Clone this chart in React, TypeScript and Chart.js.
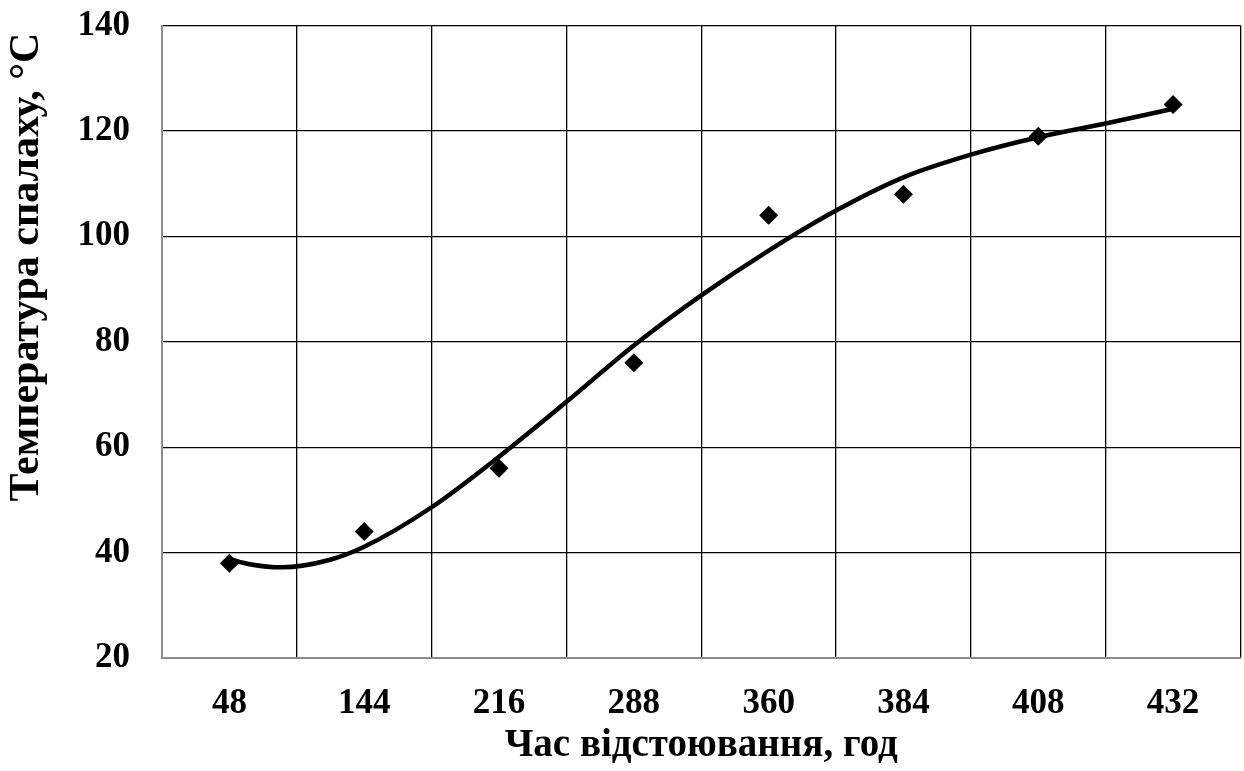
import React, { useEffect, useRef } from "react";
import { Chart, registerables } from "chart.js";

Chart.register(...registerables);

const categories = ["48", "144", "216", "288", "360", "384", "408", "432"];
const flashPoint = [38, 44, 56, 76, 104, 108, 119, 125];
const trendX = [0, 0.15, 0.39, 0.74, 1, 1.5, 2, 2.5, 3, 3.5, 4, 4.5, 5, 5.5, 6, 6.5, 7];
const trendY = [38.8, 37.8, 37.2, 38.6, 41.1, 48.6, 58.2, 68.6, 79.3, 88.8, 97.3, 104.9, 111.2, 115.5, 118.8, 121.4, 124.2];
const yTicks = [20, 40, 60, 80, 100, 120, 140];

const xTitle = "Час відстоювання, год";
const yTitle = "Температура спалаху, °C";

const FONT = '"Liberation Serif", "Times New Roman", serif';

const yTitlePlugin = {
  id: "yTitlePlugin",
  afterDraw(chart: any) {
    const ctx = chart.ctx;
    ctx.save();
    ctx.translate(27, 267);
    ctx.rotate(-Math.PI / 2);
    ctx.font = `bold 42px ${FONT}`;
    ctx.fillStyle = "#000";
    ctx.textAlign = "center";
    ctx.textBaseline = "middle";
    ctx.fillText(yTitle, 0, 0);
    ctx.restore();
  },
};

export default function App() {
  const ref = useRef<HTMLCanvasElement | null>(null);

  useEffect(() => {
    document.body.style.margin = "0";
    const canvas = ref.current!;
    const chart = new Chart(canvas, {
      type: "line",
      data: {
        labels: categories,
        datasets: [
          {
            label: "trend",
            data: trendX.map((x, i) => ({ x, y: trendY[i] })),
            xAxisID: "xl",
            borderColor: "#000",
            borderWidth: 4.5,
            pointRadius: 0,
            cubicInterpolationMode: "monotone",
            fill: false,
          } as any,
          {
            label: "data",
            data: flashPoint,
            xAxisID: "x",
            showLine: false,
            pointStyle: "rectRot",
            pointRadius: 9.5,
            pointBackgroundColor: "#000",
            pointBorderColor: "#000",
            pointBorderWidth: 0,
          },
        ],
      },
      options: {
        responsive: false,
        animation: false,
        layout: { padding: { left: 0, top: 25.5, right: 3, bottom: 0 } },
        plugins: {
          legend: { display: false },
          tooltip: { enabled: false },
        },
        scales: {
          x: {
            type: "category",
            offset: true,
            grid: {
              offset: true,
              drawTicks: false,
              color: (c: any) => (c.index === 0 ? "rgba(0,0,0,0)" : "#000"),
              lineWidth: 1.3,
            },
            border: { display: true, color: "#8c8c8c", width: 2 },
            ticks: {
              color: "#000",
              padding: 25,
              font: { family: FONT, size: 35, weight: "bold" },
            },
            title: {
              display: true,
              text: xTitle,
              color: "#000",
              font: { family: FONT, size: 39, weight: "bold" },
              padding: { top: 0, bottom: 2 },
            },
            afterFit: (s: any) => {
              s.height = 771 - 658;
            },
          },
          xl: {
            type: "linear",
            display: false,
            min: -0.5,
            max: 7.5,
          },
          y: {
            type: "linear",
            min: 20,
            max: 140,
            afterBuildTicks: (s: any) => {
              s.ticks = yTicks.map((v) => ({ value: v }));
            },
            grid: {
              drawTicks: true,
              tickLength: 32,
              tickColor: "rgba(0,0,0,0)",
              color: (c: any) => (c.index === 0 ? "rgba(0,0,0,0)" : "#000"),
              lineWidth: 1.3,
            },
            border: { display: true, color: "#8c8c8c", width: 2 },
            ticks: {
              color: "#000",
              padding: 0,
              font: { family: FONT, size: 35, weight: "bold" },
            },
            afterFit: (s: any) => {
              s.width = 162;
            },
          },
        },
      },
      plugins: [yTitlePlugin],
    });
    return () => chart.destroy();
  }, []);

  return (
    <div style={{ position: "absolute", left: 0, top: 0, width: 1244, height: 771, overflow: "hidden", background: "#fff" }}>
      <canvas ref={ref} width={1250} height={771} style={{ width: 1250, height: 771, display: "block" }} />
    </div>
  );
}
